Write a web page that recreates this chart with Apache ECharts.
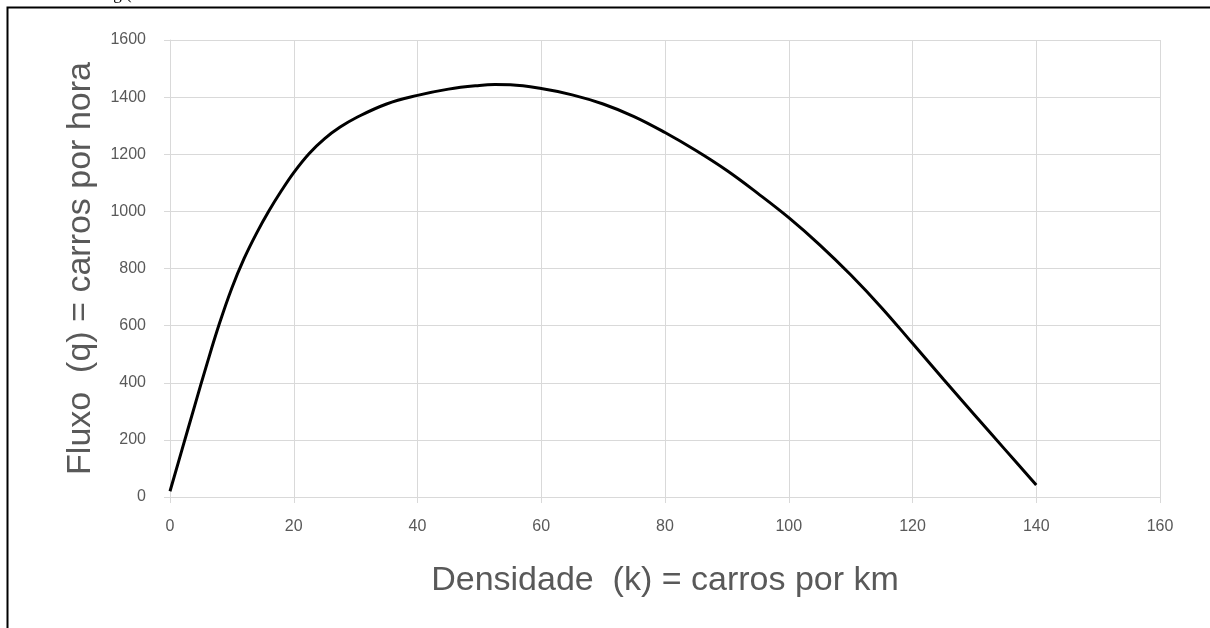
<!DOCTYPE html>
<html>
<head>
<meta charset="utf-8">
<script src="https://cdn.jsdelivr.net/npm/echarts@6/dist/echarts.min.js"></script>
<style>
html,body{margin:0;padding:0;background:#fff;}
#chart{width:1210px;height:628px;}
</style>
</head>
<body>
<div id="chart"></div>
<script>
// Density k (cars per km)
const densidade = [0, 2, 4, 6, 8, 10, 12, 14, 16, 18, 20, 22.5, 25, 27.5, 30, 35, 40, 45, 50, 52.5, 55, 60, 65, 70, 75, 80, 85, 90, 95, 100, 105, 110, 115, 120, 125, 130, 135, 140];
// Flow q (cars per hour)
const fluxo = [20, 170, 320, 468, 608, 732, 836, 924, 1002, 1072, 1136, 1203, 1255, 1295, 1327, 1376, 1406, 1428, 1441, 1444, 1443, 1430, 1408, 1376, 1332, 1276, 1213, 1143, 1063, 978, 883, 778, 663, 538, 412, 288, 165, 42];
const xTicks = [0, 20, 40, 60, 80, 100, 120, 140, 160];
const yTicks = [0, 200, 400, 600, 800, 1000, 1200, 1400, 1600];
const xTitle = 'Densidade  (k) = carros por km';
const yTitle = 'Fluxo  (q) = carros por hora';
const topText = 'ing (200';

const points = densidade.map((k, i) => [k, fluxo[i]]);
const labelColor = '#595959';
const gridColor = '#d9d9d9';

const chart = echarts.init(document.getElementById('chart'), null, {renderer: 'canvas'});
chart.setOption({
  animation: false,
  backgroundColor: '#fff',
  grid: {left: 170, right: 50, top: 40, bottom: 131, containLabel: false},
  xAxis: {
    type: 'value', min: xTicks[0], max: xTicks[xTicks.length - 1], interval: 20,
    name: xTitle, nameLocation: 'middle', nameGap: 67,
    nameTextStyle: {fontFamily: 'Liberation Sans', fontSize: 34, color: labelColor},
    axisLine: {show: true, lineStyle: {color: gridColor, width: 1}},
    axisTick: {show: true, length: 6, lineStyle: {color: gridColor}},
    axisLabel: {margin: 22, fontFamily: 'Liberation Sans', fontSize: 16, color: labelColor,
      formatter: v => String(v)},
    splitLine: {show: true, lineStyle: {color: gridColor, width: 1}}
  },
  yAxis: {
    type: 'value', min: yTicks[0], max: yTicks[yTicks.length - 1], interval: 200,
    name: yTitle, nameLocation: 'middle', nameGap: 72,
    nameTextStyle: {fontFamily: 'Liberation Sans', fontSize: 34, color: labelColor},
    axisLine: {show: true, lineStyle: {color: gridColor, width: 1}},
    axisTick: {show: true, length: 6, lineStyle: {color: gridColor}},
    axisLabel: {margin: 24, fontFamily: 'Liberation Sans', fontSize: 16, color: labelColor,
      formatter: v => String(v)},
    splitLine: {show: true, lineStyle: {color: gridColor, width: 1}}
  },
  series: [{
    type: 'line', data: points, smooth: 0.4, showSymbol: false, symbol: 'none',
    lineStyle: {color: '#000', width: 3}
  }],
  graphic: [
    {type: 'rect', left: 5, top: 5, shape: {width: 1300, height: 700}, style: {fill: 'none', stroke: '#000', lineWidth: 2}, silent: true},
    {type: 'text', left: 100, top: -14, style: {text: topText, fontFamily: 'Liberation Serif', fontSize: 17, fill: '#000'}}
  ]
});
</script>
</body>
</html>
